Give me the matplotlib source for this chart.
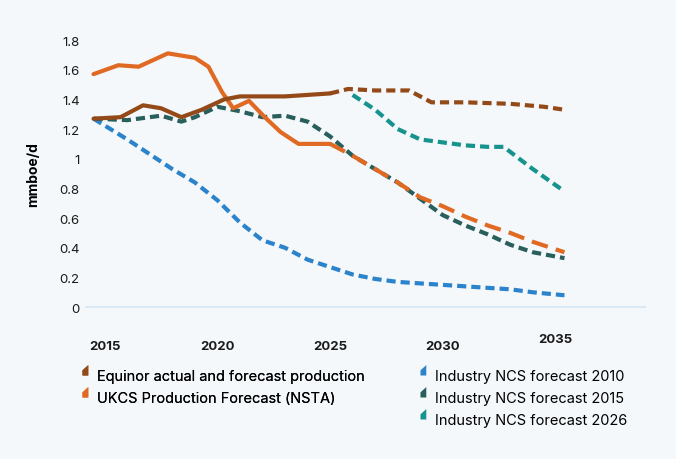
import numpy as np
import matplotlib
matplotlib.use("Agg")
from matplotlib import pyplot as plt
from matplotlib.path import Path
from matplotlib.lines import Line2D

plt.rcParams['font.family'] = ['Inter', 'DejaVu Sans']

# Industry NCS forecast 2010
blue_x = [2014.5, 2016, 2017, 2018, 2019, 2020, 2021, 2022, 2023, 2024, 2025, 2026, 2027, 2028, 2029, 2030, 2031, 2032, 2033, 2034, 2035.4]
blue_y = [1.27, 1.13, 1.03, 0.93, 0.84, 0.72, 0.57, 0.45, 0.40, 0.32, 0.27, 0.22, 0.19, 0.17, 0.16, 0.15, 0.14, 0.13, 0.12, 0.10, 0.08]

# UKCS Production Forecast (NSTA): actual (solid) and forecast (dashed)
ukcs_x = [2014.5, 2015.6, 2016.5, 2017.8, 2019.0, 2019.6, 2020.2, 2020.7, 2021.4, 2022.1, 2022.8, 2023.6, 2025.0]
ukcs_y = [1.57, 1.63, 1.62, 1.71, 1.68, 1.62, 1.45, 1.34, 1.39, 1.28, 1.18, 1.10, 1.10]
ukcs_fx = [2025.0, 2026, 2027, 2028, 2029, 2030, 2031, 2032, 2033, 2034, 2035.4]
ukcs_fy = [1.10, 1.02, 0.93, 0.84, 0.74, 0.68, 0.61, 0.55, 0.50, 0.44, 0.37]

# Equinor actual (solid) and forecast (dashed)
eq_x = [2014.5, 2015.7, 2016.7, 2017.5, 2018.4, 2019.3, 2020.3, 2021.0, 2023.0, 2024.0, 2025.0]
eq_y = [1.27, 1.28, 1.36, 1.34, 1.28, 1.33, 1.40, 1.42, 1.42, 1.43, 1.44]
eq_fx = [2025.0, 2025.8, 2027.0, 2028.5, 2029.5, 2031.0, 2033.0, 2034.5, 2035.4]
eq_fy = [1.44, 1.47, 1.46, 1.46, 1.38, 1.38, 1.37, 1.35, 1.33]

# Industry NCS forecast 2015
g15_x = [2014.5, 2016, 2017.5, 2018.4, 2019, 2020, 2021, 2022, 2023, 2024, 2025, 2026, 2027, 2028, 2029, 2030, 2031, 2032, 2033, 2034, 2035.4]
g15_y = [1.27, 1.26, 1.29, 1.25, 1.28, 1.35, 1.32, 1.28, 1.29, 1.25, 1.15, 1.02, 0.93, 0.84, 0.73, 0.62, 0.55, 0.49, 0.42, 0.37, 0.33]

# Industry NCS forecast 2026
g26_x = [2026, 2027, 2028, 2029, 2030, 2031, 2032, 2032.7, 2034, 2035.4]
g26_y = [1.43, 1.33, 1.20, 1.13, 1.11, 1.09, 1.08, 1.08, 0.93, 0.78]

labels = ['Equinor actual and forecast production', 'UKCS Production Forecast (NSTA)',
          'Industry NCS forecast 2010', 'Industry NCS forecast 2015', 'Industry NCS forecast 2026']
colors = ['#944a18', '#e06a24', '#2b83cb', '#285e5b', '#17938e']
bg = '#f4f8fb'

fig = plt.figure(figsize=(6.76, 4.60), dpi=100, facecolor=bg)
ax = fig.add_axes([0.125, 0.314, 0.83, 0.613], facecolor=bg)

lw = 3
kw = dict(lw=lw, solid_capstyle='round', dash_capstyle='butt', solid_joinstyle='round')
ax.plot(blue_x, blue_y, color=colors[2], ls=(0, (2.2, 1.2)), **kw)
ax.plot(g15_x, g15_y, color=colors[3], ls=(0, (2.2, 1.2)), **kw)
ax.plot(g26_x, g26_y, color=colors[4], ls=(0, (2.2, 1.2)), **kw)
ax.plot(ukcs_fx, ukcs_fy, color=colors[1], ls=(0, (4, 2)), **kw)
ax.plot(ukcs_x, ukcs_y, color=colors[1], **kw)
ax.plot(eq_fx, eq_fy, color=colors[0], ls=(0, (2.2, 1.2)), **kw)
ax.plot(eq_x, eq_y, color=colors[0], **kw)

ax.axhline(0, color='#d4e8f5', lw=1.2, zorder=0)
ax.set_xlim(2014.1, 2039.0)
ax.set_ylim(-0.05, 1.85)
ax.set_yticks(np.arange(0, 1.81, 0.2))
ax.set_yticklabels(['0', '0.2', '0.4', '0.6', '0.8', '1', '1.2', '1.4', '1.6', '1.8'])
ax.set_xticks([2015, 2020, 2025, 2030, 2035])
ax.set_xticklabels(['2015', '2020', '2025', '2030', '2035'], fontweight='bold')
ax.tick_params(length=0, labelsize=9.5, colors='#1a1a1a')
ax.tick_params(axis='x', pad=18)
ax.get_xticklabels()[-1].set_position((2034.7, 0.025))
for s in ax.spines.values():
    s.set_visible(False)
ax.set_ylabel('mmboe/d', fontsize=10, fontweight='bold', labelpad=14)

tri = Path([(0, 0), (1, 0), (1, 1.8), (0, 0.9), (0, 0)])
handles = [Line2D([], [], ls='none', marker=tri, markersize=15, color=c, markeredgewidth=0) for c in colors]
leg1 = fig.legend(handles[:2], labels[:2], loc='upper left', bbox_to_anchor=(0.085, 0.225),
                  frameon=False, fontsize=10.5, handletextpad=0.2, handlelength=1.6, labelspacing=0.55)
fig.legend(handles[2:], labels[2:], loc='upper left', bbox_to_anchor=(0.585, 0.225),
           frameon=False, fontsize=10.5, handletextpad=0.2, handlelength=1.6, labelspacing=0.55)
fig.add_artist(leg1)

fig.savefig('out.png', dpi=100, facecolor=bg)
